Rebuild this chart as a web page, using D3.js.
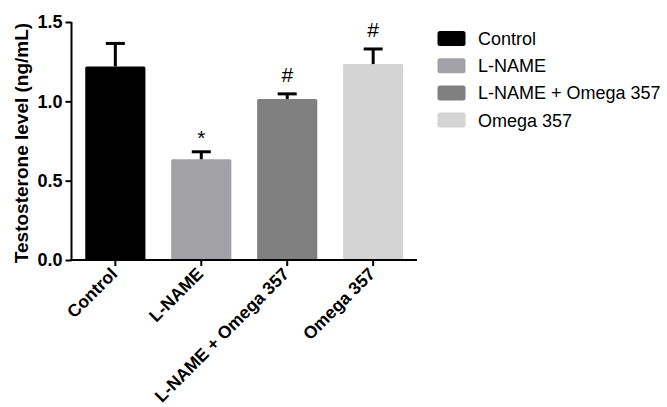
<!DOCTYPE html>
<html><head><meta charset="utf-8">
<script src="https://cdn.jsdelivr.net/npm/d3@7"></script>
<style>body{margin:0;background:#fff}svg{display:block}text{font-family:"Liberation Sans",Arial,sans-serif}</style>
</head><body>
<svg id="c" width="667" height="407"></svg>
<script>
const categories = ["Control", "L-NAME", "L-NAME + Omega 357", "Omega 357"];
const means = [1.22, 0.635, 1.015, 1.235];
const errors = [0.145, 0.047, 0.032, 0.095];
const marks = ["", "*", "#", "#"];
const colors = ["#000000", "#a2a2a6", "#808080", "#d4d4d4"];
const yTicks = [0.0, 0.5, 1.0, 1.5];
const yTitle = "Testosterone level (ng/mL)";

const svg = d3.select("#c");
const x = d3.scaleBand().domain(categories).range([71.5, 417]).paddingInner(0.3).paddingOuter(0.16);
const y = d3.scaleLinear().domain([0, 1.5]).range([260, 22]);

// bars
svg.selectAll("rect.bar").data(categories).join("rect")
  .attr("x", d => x(d)).attr("width", x.bandwidth())
  .attr("y", (d, i) => y(means[i])).attr("height", (d, i) => y(0) - y(means[i]))
  .attr("fill", (d, i) => colors[i]).attr("rx", 1.5);

// error bars
const eb = svg.append("g").attr("stroke", "#000").attr("stroke-width", 3);
categories.forEach((c, i) => {
  const cx = x(c) + x.bandwidth() / 2;
  eb.append("line").attr("x1", cx).attr("x2", cx).attr("y1", y(means[i])).attr("y2", y(means[i] + errors[i]));
  eb.append("line").attr("x1", cx - 9.5).attr("x2", cx + 9.5).attr("y1", y(means[i] + errors[i])).attr("y2", y(means[i] + errors[i]));
});

// significance marks
categories.forEach((c, i) => {
  if (!marks[i]) return;
  const cx = x(c) + x.bandwidth() / 2;
  const off = marks[i] === "*" ? 7 : 12;
  svg.append("text").attr("x", cx).attr("y", y(means[i] + errors[i]) - off)
    .attr("text-anchor", "middle").attr("font-size", 21).text(marks[i]);
});

// y axis
const ya = svg.append("g").attr("transform", "translate(71.5,0)")
  .call(d3.axisLeft(y).tickValues(yTicks).tickFormat(d3.format(".1f")).tickSize(6).tickPadding(3));
ya.select(".domain").attr("stroke-width", 2).attr("d", `M0,${y(1.5)}V${y(0)}`);
ya.selectAll(".tick line").attr("stroke-width", 2);
ya.selectAll(".tick text").attr("font-size", 18).attr("font-weight", "bold").attr("font-family", "Liberation Sans, Arial, sans-serif").attr("fill", "#000");

// x axis
const xa = svg.append("g").attr("transform", `translate(0,${y(0)})`)
  .call(d3.axisBottom(x).tickSize(6).tickSizeOuter(0));
xa.select(".domain").attr("stroke-width", 2).attr("d", "M70.5,0H417");
xa.selectAll(".tick line").attr("stroke-width", 2);
xa.selectAll(".tick text").attr("font-size", 17.5).attr("font-weight", "bold").attr("font-family", "Liberation Sans, Arial, sans-serif").attr("fill", "#000")
  .attr("text-anchor", "end").attr("dy", null).attr("y", 0)
  .attr("transform", "translate(3,15) rotate(-45)");

// y title
svg.append("text").attr("transform", `translate(28,${(y(0) + y(1.5)) / 2 + 2}) rotate(-90)`)
  .attr("text-anchor", "middle").attr("font-size", 19).attr("font-weight", "bold").text(yTitle);

// legend
const lg = svg.append("g").attr("transform", "translate(437.5,31)");
categories.forEach((c, i) => {
  const g = lg.append("g").attr("transform", `translate(0,${i * 27.2})`);
  g.append("rect").attr("width", 28).attr("height", 15).attr("rx", 2.5).attr("fill", colors[i]);
  g.append("text").attr("x", 40.5).attr("y", 14).attr("font-size", 18).text(c);
});
</script>
</body></html>
